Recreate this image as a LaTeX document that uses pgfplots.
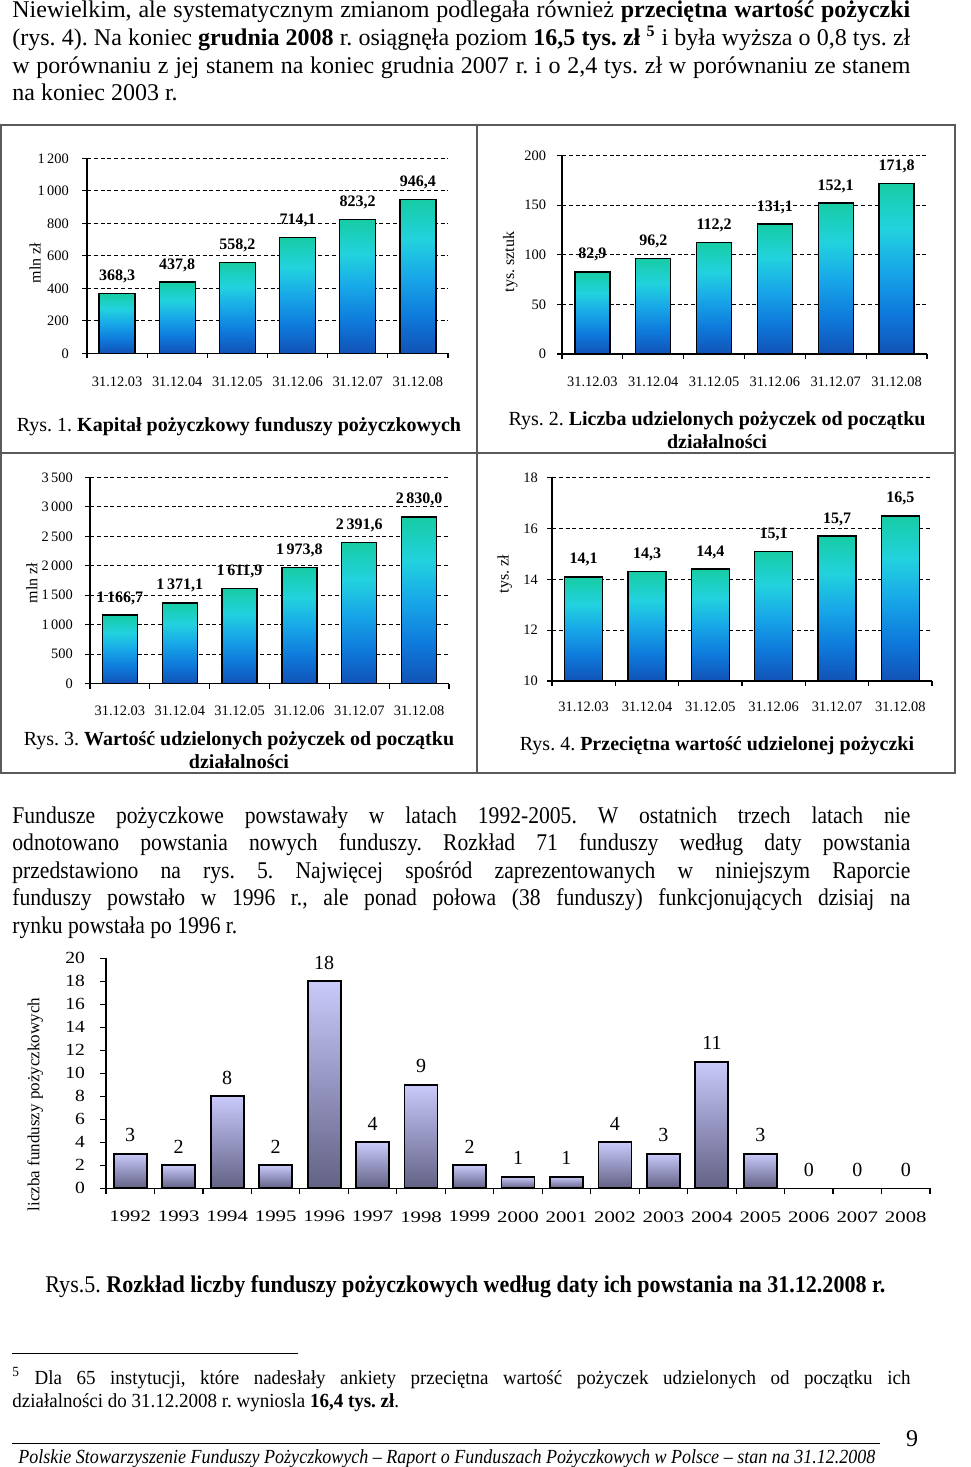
\documentclass[border=0pt]{standalone}
\usepackage{fontspec}
\setmainfont{Liberation Serif}
\newfontfamily\condfont[FakeStretch=0.9]{Liberation Serif}
\newfontfamily\footfont[FakeStretch=0.95]{Liberation Serif}
\newfontfamily\wideA[FakeStretch=1.3]{Liberation Serif}
\newfontfamily\wideB[FakeStretch=1.15]{Liberation Serif}
\usepackage{graphicx}
\usepackage{pgfplots}
\pgfplotsset{compat=1.18}
\frenchspacing

\definecolor{bb1}{RGB}{18,82,182}
\definecolor{bb2}{RGB}{14,122,220}
\definecolor{bb3}{RGB}{24,168,232}
\definecolor{bb4}{RGB}{34,210,222}
\definecolor{bb5}{RGB}{22,204,164}
\pgfdeclareverticalshading{bluebar}{100bp}{color(0bp)=(bb1); color(25bp)=(bb1); color(37bp)=(bb2); color(50bp)=(bb3); color(62bp)=(bb4); color(75bp)=(bb5); color(100bp)=(bb5)}
\definecolor{pp1}{RGB}{98,98,132}
\definecolor{pp2}{RGB}{148,148,192}
\definecolor{pp3}{RGB}{202,202,250}
\pgfdeclareverticalshading{purplebar}{100bp}{color(0bp)=(pp1); color(25bp)=(pp1); color(50bp)=(pp2); color(75bp)=(pp3); color(100bp)=(pp3)}
\definecolor{framegray}{RGB}{90,90,90}

\pgfplotsset{
  smallchart/.style={
    scale only axis, axis lines=left, axis line style={-, line width=0.75pt},
    xmin=-0.5, xmax=5.5, ymin=0,
    xtick={-0.5,0.5,1.5,2.5,3.5,4.5,5.5},
    xticklabels={31.12.03,31.12.04,31.12.05,31.12.06,31.12.07,31.12.08,{}},
    tick align=outside, major tick length=2.5pt,
    tick style={black, line width=0.6pt},
    ymajorgrids, grid style={black, line width=0.55pt, dash pattern=on 2pt off 1.4pt},
    tick label style={font=\fontsize{7.2}{8}\selectfont},
    nodes near coords, point meta=explicit symbolic,
    nodes near coords style={font=\bfseries\fontsize{8}{9}\selectfont, inner sep=0pt, text depth=0pt, yshift=6.1pt},
    ylabel style={font=\fontsize{8}{9}\selectfont, anchor=center},
    clip=false,
  },
  bb/.style={ybar, bar shift=0pt, bar width=#1, draw=black, line width=0.7pt, shading=bluebar},
  pb/.style={ybar, bar shift=0pt, bar width=16.5pt, draw=black, line width=0.9pt, shading=purplebar},
}

\begin{document}
\begin{tikzpicture}
\begin{scope}[x=0.5pt,y=-0.5pt]
\useasboundingbox (0,0) rectangle (960,1467);
% top paragraph
\begin{scope}[every node/.style={anchor=base west, inner sep=0pt, font=\fontsize{12}{13.8}\selectfont}]
\node at (12,18) {\makebox[449pt][s]{Niewielkim, ale systematycznym zmianom podlegała również \textbf{przeciętna wartość pożyczki}}};
\node at (12,45.5) {\makebox[449pt][s]{(rys. 4). Na koniec \textbf{grudnia 2008} r. osiągnęła poziom \textbf{16,5 tys. zł}~\textsuperscript{\textbf{5}} i była wyższa o 0,8 tys. zł}};
\node at (12,73) {\makebox[449pt][s]{w porównaniu z jej stanem na koniec grudnia 2007 r. i o 2,4 tys. zł w porównaniu ze stanem}};
\node at (12,100.5) {na koniec 2003 r.};
\end{scope}
% middle paragraph
\begin{scope}[every node/.style={anchor=base west, inner sep=0pt, font=\condfont\fontsize{12}{13.8}\selectfont}]
\node at (12,823) {\makebox[449pt][s]{Fundusze pożyczkowe powstawały w latach 1992-2005. W ostatnich trzech latach nie}};
\node at (12,850.5) {\makebox[449pt][s]{odnotowano powstania nowych funduszy. Rozkład 71 funduszy według daty powstania}};
\node at (12,878) {\makebox[449pt][s]{przedstawiono na rys. 5. Najwięcej spośród zaprezentowanych w niniejszym Raporcie}};
\node at (12,905.5) {\makebox[449pt][s]{funduszy powstało w 1996 r., ale ponad połowa (38 funduszy) funkcjonujących dzisiaj na}};
\node at (12,933) {rynku powstała po 1996 r.};
\end{scope}
% frame
\draw[line width=1pt, framegray] (1,125) rectangle (955,773);
\draw[line width=1pt, framegray] (477,125) -- (477,773);
\draw[line width=1pt, framegray] (1,453) -- (955,453);
% captions
\begin{scope}[every node/.style={anchor=base, inner sep=0pt, font=\fontsize{10}{11.5}\selectfont}]
\node at (239,431.7) {Rys. 1. \textbf{Kapitał pożyczkowy funduszy pożyczkowych}};
\node at (717,425) {Rys. 2. \textbf{Liczba udzielonych pożyczek od początku}};
\node at (717,448) {\textbf{działalności}};
\node at (239,745) {Rys. 3. \textbf{Wartość udzielonych pożyczek od początku}};
\node at (239,768) {\textbf{działalności}};
\node at (717,750) {Rys. 4. \textbf{Przeciętna wartość udzielonej pożyczki}};
\end{scope}
\node[anchor=base west, inner sep=0pt, font=\fontsize{12}{13.8}\selectfont] at (45,1292) {\resizebox{420pt}{\height}{Rys.5. \textbf{Rozkład liczby funduszy pożyczkowych według daty ich powstania na 31.12.2008 r.}}};
% footnote
\draw[line width=0.5pt] (12,1353) -- (298,1353);
\begin{scope}[every node/.style={anchor=base west, inner sep=0pt, font=\footfont\fontsize{10}{11.5}\selectfont}]
\node at (12,1384) {\makebox[449pt][s]{\textsuperscript{5} Dla 65 instytucji, które nadesłały ankiety przeciętna wartość pożyczek udzielonych od początku ich}};
\node at (12,1407) {działalności do 31.12.2008 r. wyniosla \textbf{16,4 tys. zł}.};
\end{scope}
% footer
\draw[line width=0.5pt] (12,1443) -- (880,1443);
\node[anchor=base, inner sep=0pt, font=\fontsize{12}{13.8}\selectfont] at (912,1446) {9};
\node[anchor=base west, inner sep=0pt, font=\fontsize{10}{11.5}\selectfont] at (18,1463) {\resizebox{428.5pt}{\height}{\itshape Polskie Stowarzyszenie Funduszy Pożyczkowych -- Raport o Funduszach Pożyczkowych w Polsce -- stan na 31.12.2008}};
\end{scope}

% Chart 1
\begin{axis}[smallchart, at={(43.5pt,-176.65pt)}, anchor=south west,
  width=180.5pt, height=97.5pt, ymax=1200,
  ytick={0,200,400,600,800,1000,1200},
  yticklabels={0,200,400,600,800,{1\,000},{1\,200}},
  x tick label style={xshift=15.04pt, yshift=-6pt},
  y tick label style={xshift=-3.1pt},
  ylabel={mln zł}, ylabel style={at={(axis description cs:-0.144,0.463)}}]
\addplot[bb=18pt] coordinates {(0,368.3) [{368,3}]};
\addplot[bb=18pt] coordinates {(1,437.8) [{437,8}]};
\addplot[bb=18pt] coordinates {(2,558.2) [{558,2}]};
\addplot[bb=18pt] coordinates {(3,714.1) [{714,1}]};
\addplot[bb=18pt] coordinates {(4,823.2) [{823,2}]};
\addplot[bb=18pt] coordinates {(5,946.4) [{946,4}]};
\end{axis}

% Chart 2
\begin{axis}[smallchart, at={(281pt,-177pt)}, anchor=south west,
  width=182.5pt, height=99.15pt, ymax=200,
  ytick={0,50,100,150,200},
  yticklabels={0,50,100,150,200},
  x tick label style={xshift=15.2pt, yshift=-5.6pt},
  y tick label style={xshift=-1.95pt},
  ylabel={tys. sztuk}, ylabel style={at={(axis description cs:-0.142,0.464)}}]
\addplot[bb=17.5pt] coordinates {(0,82.9) [{82,9}]};
\addplot[bb=17.5pt] coordinates {(1,96.2) [{96,2}]};
\addplot[bb=17.5pt] coordinates {(2,112.2) [{112,2}]};
\addplot[bb=17.5pt] coordinates {(3,131.1) [{131,1}]};
\addplot[bb=17.5pt] coordinates {(4,152.1) [{152,1}]};
\addplot[bb=17.5pt] coordinates {(5,171.8) [{171,8}]};
\end{axis}

% Chart 3
\begin{axis}[smallchart, at={(45pt,-341.85pt)}, anchor=south west,
  width=179.5pt, height=103.2pt, ymax=3500,
  ytick={0,500,1000,1500,2000,2500,3000,3500},
  yticklabels={0,500,{1\,000},{1\,500},{2\,000},{2\,500},{3\,000},{3\,500}},
  x tick label style={xshift=14.96pt, yshift=-4.9pt},
  y tick label style={xshift=-2.6pt},
  ylabel={mln zł}, ylabel style={at={(axis description cs:-0.162,0.488)}}]
\addplot[bb=17.5pt] coordinates {(0,1166.7) [{1\,166,7}]};
\addplot[bb=17.5pt] coordinates {(1,1371.1) [{1\,371,1}]};
\addplot[bb=17.5pt] coordinates {(2,1611.9) [{1\,611,9}]};
\addplot[bb=17.5pt] coordinates {(3,1973.8) [{1\,973,8}]};
\addplot[bb=17.5pt] coordinates {(4,2391.6) [{2\,391,6}]};
\addplot[bb=17.5pt] coordinates {(5,2830.0) [{2\,830,0}]};
\end{axis}

% Chart 4
\begin{axis}[smallchart, at={(276pt,-340.5pt)}, anchor=south west,
  width=190pt, height=101.65pt, ymin=0, ymax=8,
  y filter/.expression={y-10},
  ytick={0,2,4,6,8},
  yticklabels={10,12,14,16,18},
  x tick label style={xshift=15.83pt, yshift=-4.6pt},
  y tick label style={xshift=-1.1pt},
  ylabel={tys. zł}, ylabel style={at={(axis description cs:-0.124,0.526)}}]
\addplot[bb=19pt] coordinates {(0,14.1) [{14,1}]};
\addplot[bb=19pt] coordinates {(1,14.3) [{14,3}]};
\addplot[bb=19pt] coordinates {(2,14.4) [{14,4}]};
\addplot[bb=19pt] coordinates {(3,15.1) [{15,1}]};
\addplot[bb=19pt] coordinates {(4,15.7) [{15,7}]};
\addplot[bb=19pt] coordinates {(5,16.5) [{16,5}]};
\end{axis}

% Chart 5
\begin{axis}[scale only axis, at={(53pt,-594.15pt)}, anchor=south west,
  width=412pt, height=115pt,
  axis lines=left, axis line style={-, line width=0.8pt},
  xmin=1991.5, xmax=2008.5, ymin=0, ymax=20,
  ytick={0,2,4,6,8,10,12,14,16,18,20},
  yticklabels={0,2,4,6,8,10,12,14,16,18,20},
  xtick={1991.5,1992.5,1993.5,1994.5,1995.5,1996.5,1997.5,1998.5,1999.5,2000.5,2001.5,2002.5,2003.5,2004.5,2005.5,2006.5,2007.5,2008.5},
  xticklabels={1992,1993,1994,1995,1996,1997,1998,1999,2000,2001,2002,2003,2004,2005,2006,2007,2008,{}},
  tick align=outside, major tick length=3pt,
  tick style={black, line width=0.6pt},
  x tick label style={font=\wideA\fontsize{8}{9}\selectfont, xshift=12.12pt, yshift=-5pt},
  y tick label style={font=\wideB\fontsize{8.5}{9}\selectfont, xshift=-4pt},
  nodes near coords, point meta=explicit symbolic,
  nodes near coords style={font=\fontsize{10}{12}\selectfont, inner sep=0pt, text depth=0pt, yshift=5.7pt},
  ylabel={liczba funduszy pożyczkowych},
  ylabel style={at={(axis description cs:-0.086,0.364)}, anchor=center, font=\fontsize{8.5}{10}\selectfont},
  clip=false]
\addplot[pb] coordinates {(1992,3) [3]};
\addplot[pb] coordinates {(1993,2) [2]};
\addplot[pb] coordinates {(1994,8) [8]};
\addplot[pb] coordinates {(1995,2) [2]};
\addplot[pb] coordinates {(1996,18) [18]};
\addplot[pb] coordinates {(1997,4) [4]};
\addplot[pb] coordinates {(1998,9) [9]};
\addplot[pb] coordinates {(1999,2) [2]};
\addplot[pb] coordinates {(2000,1) [1]};
\addplot[pb] coordinates {(2001,1) [1]};
\addplot[pb] coordinates {(2002,4) [4]};
\addplot[pb] coordinates {(2003,3) [3]};
\addplot[pb] coordinates {(2004,11) [11]};
\addplot[pb] coordinates {(2005,3) [3]};
\addplot[ybar, bar shift=0pt, bar width=16.5pt, draw=none] coordinates {(2006,0) [0] (2007,0) [0] (2008,0) [0]};
\end{axis}
\end{tikzpicture}
\end{document}
